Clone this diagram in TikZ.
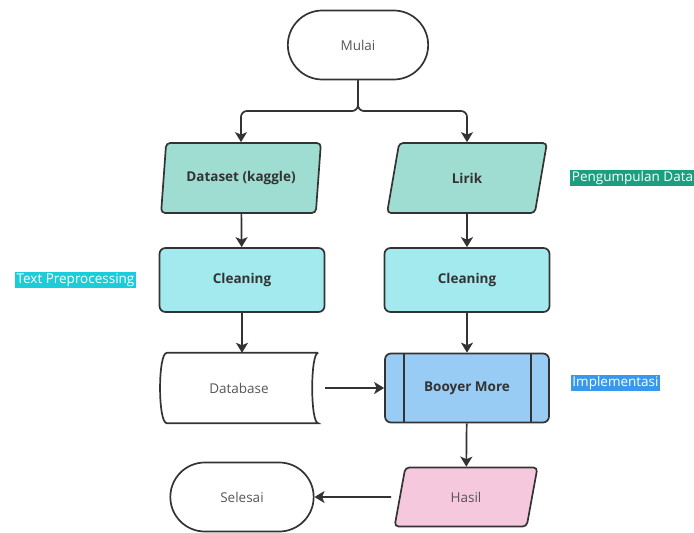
\documentclass[tikz,border=0pt]{standalone}
\usepackage{fontspec}
\setmainfont{Open Sans}
\usepackage{tikz}
\definecolor{lineGray}{RGB}{51, 51, 51}
\definecolor{textGray}{RGB}{85, 85, 85}
\definecolor{inputTeal}{RGB}{159, 221, 211}
\definecolor{cleanCyan}{RGB}{163, 234, 238}
\definecolor{processBlue}{RGB}{153, 204, 245}
\definecolor{outputPink}{RGB}{246, 200, 221}
\definecolor{tagGreen}{RGB}{27, 160, 127}
\definecolor{tagCyan}{RGB}{26, 205, 216}
\definecolor{tagBlue}{RGB}{55, 152, 236}
\usetikzlibrary{shapes.geometric, shapes.misc, arrows.meta, positioning}

\tikzset{
    base/.style={draw=lineGray, line width=1.7pt, font=\fontsize{13.5}{16}\selectfont},
    terminal/.style={base, rounded rectangle, minimum width=147pt, minimum height=69pt, text=textGray},
    dataio/.style={base, trapezium, trapezium left angle=79, trapezium right angle=101,
        trapezium stretches=true, rounded corners=4pt, minimum height=70pt},
    cleanbox/.style={base, rectangle, rounded corners=6pt, fill=cleanCyan, minimum width=165pt,
        minimum height=64pt, text=lineGray, font=\fontsize{13.5}{16}\selectfont\bfseries},
    flow/.style={lineGray, line width=1.7pt, -{Stealth[length=10pt, width=12pt, inset=2.5pt]}},
    tag/.style={fill=#1, text=white, inner sep=1.5pt, font=\fontsize{13.5}{16}\selectfont}
}

\begin{document}
\begin{tikzpicture}[x=1pt, y=-1pt]
        \useasboundingbox (0,0) rectangle (694,533);
        \node[terminal] (mulai) at (358,45) {Mulai};
        \node[dataio, fill=inputTeal, minimum width=160pt, text=lineGray, font=\fontsize{13.5}{16}\selectfont\bfseries] (dataset) at (241,178) {Dataset (kaggle)};
        \node[dataio, fill=inputTeal, minimum width=160pt, text=lineGray, font=\fontsize{13.5}{16}\selectfont\bfseries] (lirik) at (467,178) {Lirik};
        \node[cleanbox] (cleanA) at (242,280) {Cleaning};
        \node[cleanbox] (cleanB) at (467,280) {Cleaning};
        \node[minimum width=158pt, minimum height=70pt, text=textGray, font=\fontsize{13.5}{16}\selectfont] (db) at (239,388) {Database};
        \draw[lineGray, line width=1.7pt] (db.north east) -- ([xshift=7pt]db.north west)
            .. controls ([xshift=-2pt]db.north west) and ([xshift=-2pt]db.south west) .. ([xshift=7pt]db.south west)
            -- (db.south east)
            .. controls ([xshift=-8pt]db.south east) and ([xshift=-8pt]db.north east) .. (db.north east);
        \node[base, rectangle, rounded corners=6pt, fill=processBlue, minimum width=164pt, minimum height=69pt,
            text=lineGray, font=\fontsize{13.5}{16}\selectfont\bfseries] (booyer) at (467,388) {Booyer More};
        \draw[lineGray, line width=1.7pt] ([xshift=20pt]booyer.north west) -- ([xshift=20pt]booyer.south west);
        \draw[lineGray, line width=1.7pt] ([xshift=-19pt]booyer.north east) -- ([xshift=-19pt]booyer.south east);
        \node[dataio, fill=outputPink, minimum width=143pt, minimum height=59pt, text=textGray] (hasil) at (466,497) {Hasil};
        \node[terminal, minimum width=150pt] (selesai) at (242,497) {Selesai};
        \node[tag=tagCyan] (tpre) at (75.5,280) {Text Preprocessing};
        \node[tag=tagGreen] (tdata) at (632.5,178) {Pengumpulan Data};
        \node[tag=tagBlue] (timpl) at (615.5,383) {Implementasi};
        \coordinate (fork) at (358,111);
        \draw[flow, rounded corners=6pt] (mulai) -- (fork) -| (dataset);
        \draw[flow, rounded corners=6pt] (mulai) -- (fork) -| (lirik);
        \draw[flow] (dataset) -- (cleanA);
        \draw[flow] (lirik) -- (cleanB);
        \draw[flow] (cleanA.south) -- (db.north -| cleanA.south);
        \draw[flow] (cleanB) -- (booyer);
        \draw[flow, shorten <=7pt] (db.east) -- (booyer.west);
        \draw[flow] (booyer) -- (hasil);
        \draw[flow, shorten <=8pt] (hasil.west) -- (selesai.east);
    \end{tikzpicture}
\end{document}
